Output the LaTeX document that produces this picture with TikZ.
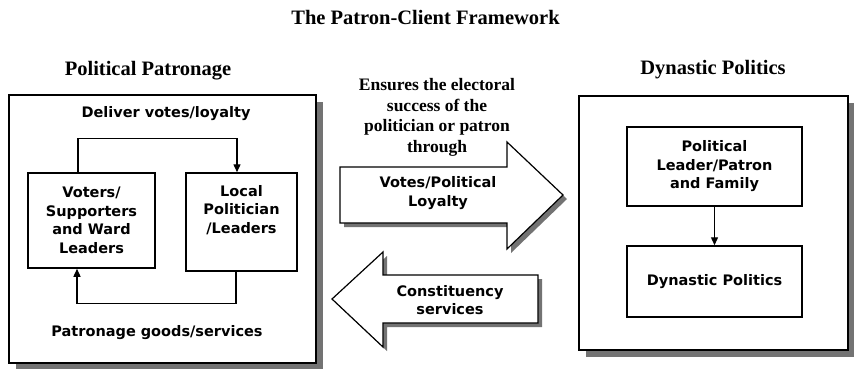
\documentclass[tikz,border=0pt]{standalone}
\usepackage{fontspec}
\setmainfont{Liberation Serif}
\newfontfamily\verdana{DejaVu Sans}
\usetikzlibrary{arrows.meta,shadows}

\begin{document}
\begin{tikzpicture}[
    x=1pt, y=-1pt,
    heading/.style={font=\fontsize{20.5}{24}\selectfont\bfseries, anchor=base},
    note/.style={font=\fontsize{17.5}{20.5}\selectfont\bfseries, align=center},
    boxtext/.style={font=\verdana\fontsize{14.5}{18.5}\selectfont\bfseries, align=center},
    panel/.style={rectangle, draw, line width=1.8pt, fill=white, drop shadow={shadow xshift=7pt, shadow yshift=-7pt, fill=black!55, opacity=1}},
    box/.style={rectangle, draw, line width=1.5pt, fill=white, boxtext, inner sep=0pt},
    bigarrow/.style={draw, line width=1.2pt, fill=white, line join=miter, drop shadow={shadow xshift=4pt, shadow yshift=-4pt, fill=black!55, opacity=1}},
    flow/.style={line width=1.4pt, -{Triangle[length=8pt, width=7pt]}}
]
\useasboundingbox (0,0) rectangle (854,368);

\node[heading] (title) at (425.5,24) {The Patron-Client Framework};

% patronage side
\node[heading] (patronagehead) at (148,75) {Political Patronage};
\node[panel, minimum width=307, minimum height=268] (patronage) at (162.5,229) {};
\node[boxtext] (deliver) at (166,113.5) {Deliver votes/loyalty};
\node[box, minimum width=127, minimum height=95] (voters) at (91.5,220.5) {Voters/\\Supporters\\and Ward\\Leaders};
\node[box, minimum width=111, minimum height=98, text depth=26pt] (local) at (241.5,222) {Local\\Politician\\/Leaders};
\node[boxtext] (goods) at (157,333) {Patronage goods/services};

\draw[flow] ([xshift=-13.5pt]voters.north) -- ++(0,-34) -| ([xshift=-4.5pt]local.north);
\draw[flow] ([xshift=-5.5pt]local.south) -- ++(0,32) -| ([xshift=-14.5pt]voters.south);

% exchange between the two sides
\node[note] (ensures) at (437,117.5) {Ensures the electoral\\success of the\\politician or patron\\through};
\draw[bigarrow] (340,167) -- (507,167) -- (507,142) -- (563,195) -- (507,249) -- (507,223) -- (340,223) -- cycle;
\node[boxtext] (votes) at (438,193) {Votes/Political\\Loyalty};
\draw[bigarrow] (332,299) -- (383,252) -- (383,275) -- (538,275) -- (538,323) -- (383,323) -- (383,347) -- cycle;
\node[boxtext] (services) at (450,300) {Constituency\\services};

% dynasty side
\node[heading] (dynastyhead) at (713,74) {Dynastic Politics};
\node[panel, minimum width=269, minimum height=254] (dynasty) at (713.5,223) {};
\node[box, minimum width=175, minimum height=79] (leader) at (714.5,166.5) {Political\\Leader/Patron\\and Family};
\node[box, minimum width=175, minimum height=71] (dynastic) at (714.5,281.5) {Dynastic Politics};

\draw[flow] (leader) -- (dynastic);
\end{tikzpicture}
\end{document}
